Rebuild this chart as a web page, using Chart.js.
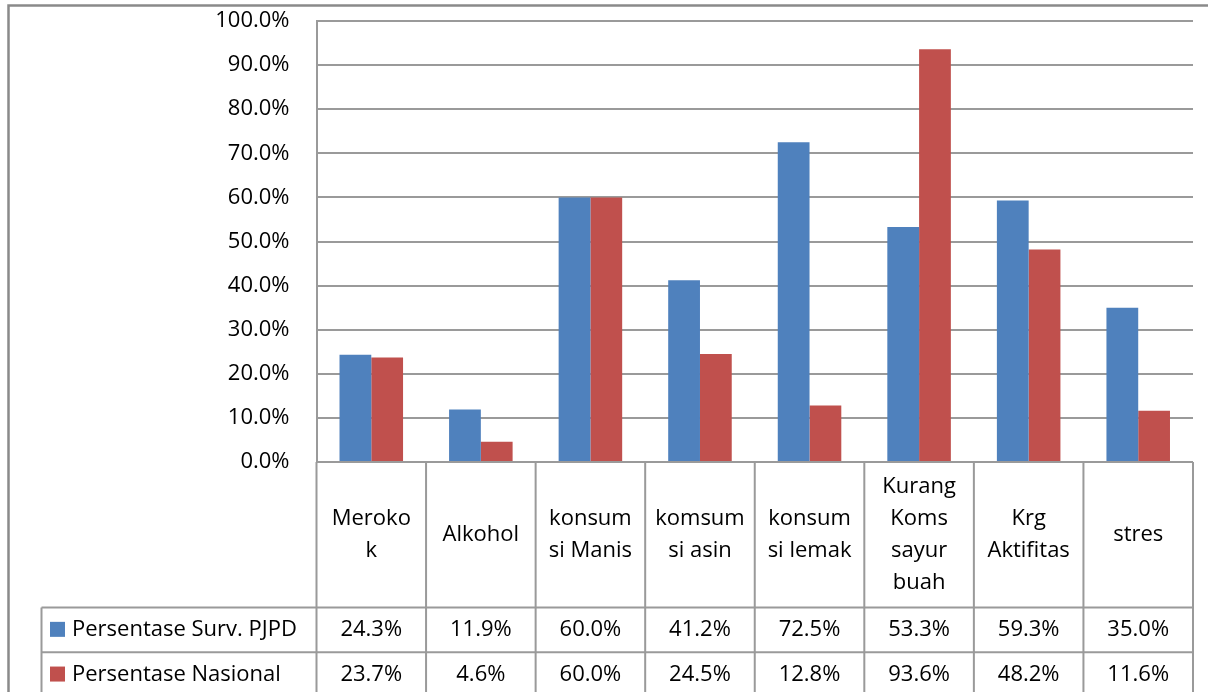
<!DOCTYPE html>
<html>
<head>
<meta charset="utf-8">
<script src="https://cdn.jsdelivr.net/npm/chart.js@4/dist/chart.umd.min.js"></script>
<style>
  html,body{margin:0;padding:0;background:#fff;}
  #wrap{position:relative;width:1208px;height:692px;}
</style>
</head>
<body>
<div id="wrap"><canvas id="c"></canvas></div>
<script>
const categories = [
  ["Meroko","k"],
  ["Alkohol"],
  ["konsum","si Manis"],
  ["komsum","si asin"],
  ["konsum","si lemak"],
  ["Kurang","Koms","sayur","buah"],
  ["Krg","Aktifitas"],
  ["stres"]
];
const seriesNames = ["Persentase Surv. PJPD", "Persentase Nasional"];
const survValues = [24.3, 11.9, 60.0, 41.2, 72.5, 53.3, 59.3, 35.0];
const nasionalValues = [23.7, 4.6, 60.0, 24.5, 12.8, 93.6, 48.2, 11.6];
const yTicks = [0, 10, 20, 30, 40, 50, 60, 70, 80, 90, 100];

const FONT = "'Open Sans', Lato, sans-serif";
const FS = 22;
const GRID = '#9a9a9a';
const COLORS = ['#4F81BD', '#C0504D'];

const tablePlugin = {
  id: 'dataTable',
  afterDraw(chart) {
    const ctx = chart.ctx;
    const xs = chart.scales.x;
    const ca = chart.chartArea;
    const n = categories.length;
    const colW = (ca.right - ca.left) / n;
    const top = ca.bottom;
    const row1 = top + 145.5;
    const row2 = row1 + 44.7;
    const row3 = row2 + 44.7;
    const legLeft = 41.5;
    ctx.save();
    ctx.strokeStyle = '#8a8a8a';
    ctx.lineWidth = 2.5;
    ctx.beginPath();
    ctx.moveTo(8.5, 700);
    ctx.lineTo(8.5, 5.5);
    ctx.lineTo(1220, 5.5);
    ctx.stroke();

    ctx.strokeStyle = GRID;
    ctx.lineWidth = 2;
    ctx.beginPath();
    for (let i = 0; i <= n; i++) {
      const x = ca.left + i * colW;
      ctx.moveTo(x, top);
      ctx.lineTo(x, 700);
    }
    ctx.moveTo(ca.left, top); ctx.lineTo(ca.right, top);
    ctx.moveTo(legLeft, row1); ctx.lineTo(ca.right, row1);
    ctx.moveTo(legLeft, row2); ctx.lineTo(ca.right, row2);
    ctx.moveTo(legLeft, row3); ctx.lineTo(ca.right, row3);
    ctx.moveTo(legLeft, row1); ctx.lineTo(legLeft, 700);
    ctx.stroke();

    ctx.fillStyle = '#000';
    ctx.font = FS + 'px ' + FONT;
    ctx.textAlign = 'center';
    ctx.textBaseline = 'middle';
    const lh = 32;
    const catMid = (top + row1) / 2;
    categories.forEach((lines, i) => {
      const cx = xs.getPixelForValue(i);
      const y0 = catMid - (lines.length - 1) * lh / 2;
      lines.forEach((t, k) => ctx.fillText(t, cx, y0 + k * lh));
    });
    const datasets = chart.data.datasets;
    const rowMids = [(row1 + row2) / 2, (row2 + row3) / 2];
    datasets.forEach((ds, d) => {
      const y = rowMids[d];
      ds.data.forEach((v, i) => {
        ctx.textAlign = 'center';
        ctx.fillText(v.toFixed(1) + '%', xs.getPixelForValue(i), y);
      });
      ctx.fillStyle = ds.backgroundColor;
      ctx.fillRect(50, y - 8, 15, 15);
      ctx.fillStyle = '#000';
      ctx.textAlign = 'left';
      ctx.fillText(ds.label, 72, y);
    });
    ctx.restore();
  }
};

new Chart(document.getElementById('c'), {
  type: 'bar',
  data: {
    labels: categories,
    datasets: [
      { label: seriesNames[0], data: survValues, backgroundColor: COLORS[0] },
      { label: seriesNames[1], data: nasionalValues, backgroundColor: COLORS[1] }
    ]
  },
  options: {
    responsive: true,
    maintainAspectRatio: false,
    animation: false,
    events: [],
    layout: { padding: { left: 0, right: 15, top: 21, bottom: 230 } },
    plugins: { legend: { display: false }, tooltip: { enabled: false } },
    datasets: { bar: { categoryPercentage: 0.58, barPercentage: 1.0 } },
    scales: {
      x: { display: false },
      y: {
        min: 0, max: 100,
        afterFit(s) { s.width = 316.5; },
        afterBuildTicks(s) { s.ticks = yTicks.map(v => ({ value: v })); },
        ticks: {
          padding: 0,
          color: '#000',
          font: { family: FONT, size: FS },
          callback: v => v.toFixed(1) + '%'
        },
        grid: { color: GRID, lineWidth: 2, drawTicks: true, tickLength: 27, tickColor: 'rgba(0,0,0,0)' },
        border: { color: GRID, width: 2 }
      }
    }
  },
  plugins: [tablePlugin]
});
</script>
</body>
</html>
